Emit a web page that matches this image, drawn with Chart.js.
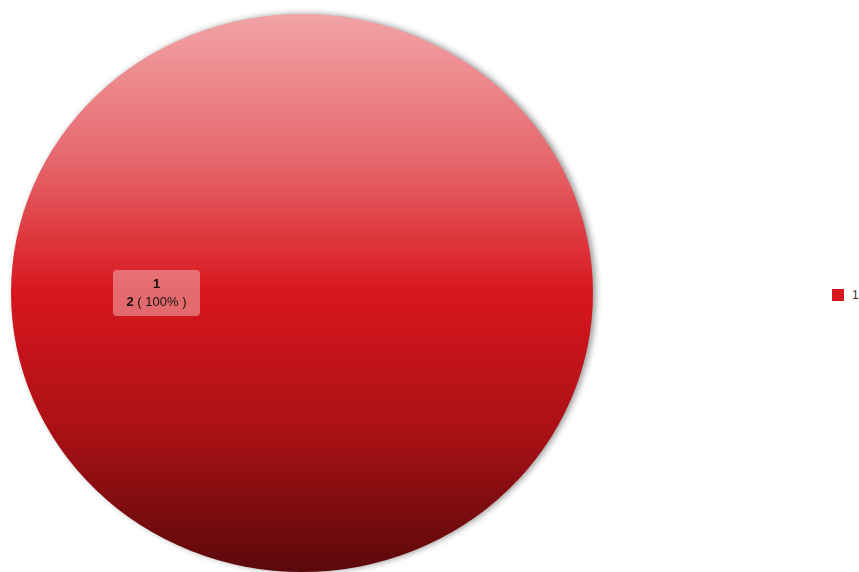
<!DOCTYPE html>
<html>
<head>
<meta charset="utf-8">
<script src="https://cdn.jsdelivr.net/npm/chart.js@4/dist/chart.umd.min.js"></script>
<style>
  html, body { margin: 0; padding: 0; background: #fff; }
  body { width: 859px; height: 572px; position: relative; overflow: hidden; font-family: "Liberation Sans", Arial, sans-serif; }
  #wrap { position: absolute; left: 0; top: 0; width: 604px; height: 572px; }
  #legend { position: absolute; left: 832px; top: 288px; font-size: 12px; color: #333; white-space: nowrap; }
  #legend .item { display: flex; align-items: center; height: 14px; }
  #legend .sw { width: 12px; height: 12px; margin-right: 8px; }
</style>
</head>
<body>
<div id="wrap"><canvas id="pie"></canvas></div>
<div id="legend"></div>
<script>
// data
const labels = ["1"];
const values = [2];
const swatch = ["#d9171e"];

const total = values.reduce((a, b) => a + b, 0);
const sx = 1.043; // pie is a bit wider than tall

// ✅ gradient fill, light at top to dark at bottom
const fill = (context) => {
  const area = context.chart.chartArea;
  if (!area) return swatch[0];
  const g = context.chart.ctx.createLinearGradient(0, area.top, 0, area.bottom);
  g.addColorStop(0, "#f1a3a5");
  g.addColorStop(0.25, "#e66b70");
  g.addColorStop(0.5, "#d8161d");
  g.addColorStop(0.75, "#a91115");
  g.addColorStop(1, "#5a080a");
  return g;
};

const ellipse = {
  id: "ellipse",
  beforeDatasetsDraw(chart) {
    const { ctx, chartArea } = chart;
    const cx = (chartArea.left + chartArea.right) / 2;
    ctx.save();
    ctx.translate(cx, 0);
    ctx.scale(sx, 1);
    ctx.translate(-cx, 0);
    ctx.shadowColor = "rgba(0,0,0,0.4)";
    ctx.shadowBlur = 6;
    ctx.shadowOffsetX = 3;
  },
  afterDatasetsDraw(chart) {
    chart.ctx.restore();
  }
};

const sliceLabels = {
  id: "sliceLabels",
  afterDatasetsDraw(chart) {
    const { ctx, chartArea } = chart;
    const cx = (chartArea.left + chartArea.right) / 2;
    chart.getDatasetMeta(0).data.forEach((arc, i) => {
      const p = arc.tooltipPosition();
      const x = cx + (p.x - cx) * sx;
      const y = p.y;
      const w = 87, h = 46;
      ctx.save();
      ctx.fillStyle = "rgba(255,255,255,0.36)";
      ctx.beginPath();
      ctx.roundRect(x - w / 2, y - h / 2, w, h, 4);
      ctx.fill();
      ctx.fillStyle = "#111";
      ctx.textAlign = "center";
      ctx.textBaseline = "middle";
      ctx.font = "bold 13px 'Liberation Sans', Arial, sans-serif";
      ctx.fillText(labels[i], x, y - 9);
      const pct = Math.round(values[i] / total * 100);
      const a = String(values[i]);
      const b = " ( " + pct + "% )";
      const wa = ctx.measureText(a).width;
      ctx.font = "13px 'Liberation Sans', Arial, sans-serif";
      const wb = ctx.measureText(b).width;
      const left = x - (wa + wb) / 2;
      ctx.textAlign = "left";
      ctx.fillText(b, left + wa, y + 9);
      ctx.font = "bold 13px 'Liberation Sans', Arial, sans-serif";
      ctx.fillText(a, left, y + 9);
      ctx.restore();
    });
  }
};

const chart = new Chart(document.getElementById("pie"), {
  type: "pie",
  data: {
    labels: labels,
    datasets: [{
      data: values,
      backgroundColor: fill,
      borderWidth: 0
    }]
  },
  options: {
    responsive: true,
    maintainAspectRatio: false,
    animation: false,
    rotation: 90,
    layout: { padding: { top: 14, bottom: 0, left: 0, right: 0 } },
    plugins: { legend: { display: false }, tooltip: { enabled: false } }
  },
  plugins: [ellipse, sliceLabels]
});

// legend on the far right
document.getElementById("legend").innerHTML = labels.map((l, i) =>
  `<div class="item"><span class="sw" style="background:${swatch[i]}"></span>${l}</div>`
).join("");
</script>
</body>
</html>
